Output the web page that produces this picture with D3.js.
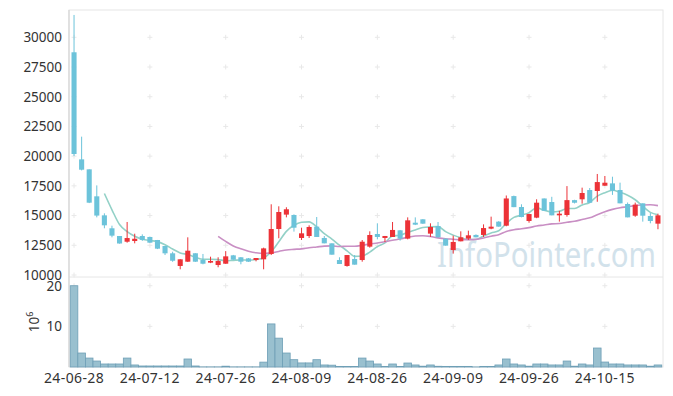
<!DOCTYPE html>
<html>
<head>
<meta charset="utf-8">
<script src="https://cdn.jsdelivr.net/npm/d3@7"></script>
<style>
  body { margin: 0; background: #fff; }
  text { font-family: "Noto Sans", sans-serif; }
</style>
</head>
<body>
<div id="chart"></div>
<script>
// trading days
const dates = [
  "24-06-28",
  "24-07-01", "24-07-02", "24-07-03", "24-07-04", "24-07-05",
  "24-07-08", "24-07-09", "24-07-10", "24-07-11", "24-07-12",
  "24-07-15", "24-07-16", "24-07-17", "24-07-18", "24-07-19",
  "24-07-22", "24-07-23", "24-07-24", "24-07-25", "24-07-26",
  "24-07-29", "24-07-30", "24-07-31", "24-08-01", "24-08-02",
  "24-08-05", "24-08-06", "24-08-07", "24-08-08", "24-08-09",
  "24-08-12", "24-08-13", "24-08-14", "24-08-16",
  "24-08-19", "24-08-20", "24-08-21", "24-08-22", "24-08-23",
  "24-08-26", "24-08-27", "24-08-28", "24-08-29", "24-08-30",
  "24-09-02", "24-09-03", "24-09-04", "24-09-05", "24-09-06",
  "24-09-09", "24-09-10", "24-09-11", "24-09-12", "24-09-13",
  "24-09-19", "24-09-20",
  "24-09-23", "24-09-24", "24-09-25", "24-09-26", "24-09-27",
  "24-09-30", "24-10-02", "24-10-04",
  "24-10-07", "24-10-08", "24-10-10", "24-10-11",
  "24-10-14", "24-10-15", "24-10-16", "24-10-17", "24-10-18",
  "24-10-21", "24-10-22", "24-10-23", "24-10-24"
];

const open = [28740, 19730, 18890, 16620, 15020, 13930, 13280, 12800, 12860, 13280,
  13200, 12945, 12440, 11825, 10760, 11120, 11830, 11260, 11040, 10840,
  10950, 11655, 11490, 11400, 11260, 11320, 11770, 13870, 15080, 15050,
  13115, 13280, 14070, 13115, 12665, 11260, 10760, 11350, 11260, 12385,
  13450, 13115, 13200, 13760, 13060, 14400, 14685, 13480, 14120, 13060,
  12100, 12835, 13060, 13370, 13370, 13900, 14490, 14150, 16640, 15720,
  14545, 14825, 16440, 16140, 15020, 15050, 16300, 16370, 17150, 17070,
  17515, 17710, 17150, 15975, 14990, 16030, 14965, 14320];
const high = [31880, 21640, 18890, 17540, 15190, 14150, 13280, 14460, 13475, 13420,
  13230, 12950, 12440, 11960, 11330, 13170, 11830, 11770, 11540, 11490,
  12010, 11690, 11510, 11430, 11430, 12300, 15950, 15780, 15700, 15100,
  13980, 14180, 14880, 13280, 12665, 11490, 11680, 11680, 12945, 13675,
  14350, 13283, 14460, 13790, 14850, 14850, 14700, 14350, 14460, 13060,
  13310, 13675, 13730, 13420, 14260, 14910, 14530, 16690, 16680, 15950,
  15150, 16370, 16440, 16580, 15400, 17480, 16330, 17350, 17320, 18500,
  18330, 18270, 17770, 16100, 16090, 16030, 15210, 15160];
const low = [20010, 18800, 16050, 14850, 13930, 13170, 12635, 12720, 12665, 12870,
  12700, 12180, 11680, 11110, 10480, 11100, 11100, 10900, 11000, 10650,
  10940, 11280, 10900, 11100, 11150, 10480, 11680, 13090, 14850, 13650,
  12945, 13115, 13200, 12665, 11710, 10925, 10700, 10870, 11120, 12300,
  13000, 12780, 13200, 12890, 13000, 14200, 14300, 13200, 13170, 12470,
  11800, 12833, 12950, 13170, 13200, 13850, 14066, 14100, 15710, 14850,
  14400, 14780, 15405, 15020, 14490, 14910, 16020, 16000, 16080, 16160,
  17500, 16740, 16030, 14850, 14900, 14490, 14350, 13850];
const close = [20180, 18860, 16085, 15000, 14180, 13310, 12650, 13110, 13050, 12950,
  12720, 12215, 11825, 11200, 11320, 12045, 11120, 10950, 11180, 11180,
  11570, 11290, 11120, 11120, 11430, 12240, 13870, 15300, 15530, 13980,
  13506, 14040, 13200, 12665, 11710, 10925, 11680, 10870, 12800, 13365,
  13200, 13283, 13790, 13060, 14600, 14235, 14320, 14040, 13170, 12470,
  12780, 13170, 13340, 13170, 13950, 14066, 14070, 16440, 15710, 14880,
  15130, 16085, 15405, 15020, 15160, 16300, 16080, 16900, 16080, 17820,
  17765, 17095, 16030, 14850, 15920, 14990, 14545, 15020];
// volume, millions of shares
const volume = [20.0, 3.44, 2.2, 1.47, 0.74, 0.74, 0.74, 2.2, 0.5, 0.25,
  0.25, 0.25, 0.25, 0.25, 0.25, 1.97, 0.25, 0.03, 0.03, 0.03,
  0.2, 0.03, 0.03, 0.03, 0.03, 1.2, 10.6, 7.1, 3.44, 1.8,
  1.0, 1.0, 1.8, 0.5, 0.45, 0.15, 0.12, 0.12, 2.2, 1.47,
  0.74, 0.15, 0.74, 0.15, 0.98, 0.5, 0.2, 0.5, 0.18, 0.15,
  0.15, 0.15, 0.15, 0.02, 0.15, 0.15, 0.5, 1.97, 0.74, 0.5,
  0.2, 0.74, 0.74, 0.5, 0.5, 1.47, 0.2, 0.74, 0.5, 4.67,
  1.22, 0.74, 0.74, 0.5, 0.5, 0.5, 0.2, 0.5];

const priceTicks = [10000, 12500, 15000, 17500, 20000, 22500, 25000, 27500, 30000];
const volumeTicks = [10, 20];
const maPeriods = [5, 20];
const maColors = ["#93d1c7", "#c98fc4"];

const W = 673, H = 396;
const plotL = 69, plotR = 663, plotT = 10, split = 277, plotB = 367;

const svg = d3.select("div#chart").append("svg")
    .attr("width", W)
    .attr("height", H);

const x = d3.scaleBand()
    .domain(dates)
    .range([plotL, plotR])
    .padding(0.33);
const step = x.step();
const cx = d => x(d) + x.bandwidth() / 2;

const y = d3.scaleLinear()
    .domain([9832, 32297])
    .range([split, plotT]);

const yv = d3.scaleLinear()
    .domain([0, 21.9])
    .range([plotB, split + 1]);

// watermark, behind everything
svg.append("text")
    .attr("x", 437)
    .attr("y", 267)
    .attr("textLength", 219)
    .attr("lengthAdjust", "spacingAndGlyphs")
    .style("font-size", "34px")
    .style("fill", "#d2e2eb")
    .text("InfoPointer.com");

// frame
svg.append("rect")
    .attr("x", plotL).attr("y", plotT)
    .attr("width", plotR - plotL).attr("height", plotB - plotT)
    .attr("fill", "none")
    .attr("stroke", "#e6e6e6");
svg.append("line")
    .attr("x1", plotL).attr("x2", plotR)
    .attr("y1", split).attr("y2", split)
    .attr("stroke", "#e6e6e6");
svg.append("line")
    .attr("x1", plotL).attr("x2", plotL)
    .attr("y1", plotT).attr("y2", plotB)
    .attr("stroke", "#cfcfcf");

// grid: small crosses at tick intersections
const labelIdx = d3.range(0, dates.length, 10);
const gx = labelIdx.map(i => cx(dates[i]));
const gy = priceTicks.map(y).concat(volumeTicks.map(yv));
const crosses = [];
gx.forEach(a => gy.forEach(b => crosses.push([a, b])));
const grid = svg.append("g").attr("stroke", "#e8e8e8").attr("stroke-width", 1);
grid.selectAll("path")
    .data(crosses)
    .enter()
    .append("path")
    .attr("d", d => "M" + (d[0] - 2.5) + "," + d[1] + "h5M" + d[0] + "," + (d[1] - 2.5) + "v5");

// price axis
const yAxis = svg.append("g")
    .attr("transform", "translate(" + (plotL - 4) + ",0)")
    .call(d3.axisLeft(y).tickValues(priceTicks).tickSize(0).tickFormat(d3.format("d")));
yAxis.select(".domain").remove();

// volume axis
const vAxis = svg.append("g")
    .attr("transform", "translate(" + (plotL - 4) + ",0)")
    .call(d3.axisLeft(yv).tickValues(volumeTicks).tickSize(0));
vAxis.select(".domain").remove();

svg.selectAll(".tick text")
    .style("font-size", "13.5px")
    .style("font-family", "Noto Sans")
    .style("fill", "#333");

// 10^6 unit label
const unit = svg.append("text")
    .attr("transform", "translate(39," + ((split + plotB) / 2) + ") rotate(-90)")
    .attr("text-anchor", "middle")
    .style("font-size", "13.5px")
    .style("fill", "#333");
unit.append("tspan").text("10");
unit.append("tspan").attr("dy", -6).style("font-size", "9px").text("6");

// x labels
svg.append("g")
    .selectAll("text")
    .data(labelIdx)
    .enter()
    .append("text")
    .attr("x", i => cx(dates[i]))
    .attr("y", 383)
    .attr("text-anchor", "middle")
    .style("font-size", "14px")
    .style("letter-spacing", "0.4px")
    .style("fill", "#333")
    .text(i => dates[i]);

// volume bars
svg.append("g")
    .selectAll("rect")
    .data(dates)
    .enter()
    .append("rect")
    .attr("x", d => x(d) - (step - x.bandwidth()) / 2)
    .attr("width", step)
    .attr("y", (d, i) => yv(volume[i]))
    .attr("height", (d, i) => yv(0) - yv(volume[i]))
    .attr("fill", "#99c0cf")
    .attr("stroke", "#6e9fb6")
    .attr("stroke-width", 0.8);

// moving averages from close
maPeriods.forEach(function (p, k) {
    const pts = [];
    for (let i = p - 1; i < close.length; i++) {
        pts.push([cx(dates[i]), y(d3.mean(close.slice(i - p + 1, i + 1)))]);
    }
    svg.append("path")
        .datum(pts)
        .attr("d", d3.line().curve(d3.curveMonotoneX))
        .attr("fill", "none")
        .attr("stroke", maColors[k])
        .attr("stroke-width", 1.6);
});

// candles
const up = "#ec3237", down = "#6cc3da";
const candles = svg.append("g")
    .selectAll("g")
    .data(dates)
    .enter()
    .append("g");
candles.append("line")
    .attr("x1", d => cx(d)).attr("x2", d => cx(d))
    .attr("y1", (d, i) => y(high[i]))
    .attr("y2", (d, i) => y(low[i]))
    .attr("stroke", (d, i) => close[i] >= open[i] ? up : down)
    .attr("stroke-width", 1);
candles.append("rect")
    .attr("x", d => x(d))
    .attr("width", x.bandwidth())
    .attr("y", (d, i) => y(Math.max(open[i], close[i])))
    .attr("height", (d, i) => Math.max(1.5, Math.abs(y(open[i]) - y(close[i]))))
    .attr("fill", (d, i) => close[i] >= open[i] ? up : down);
</script>
</body>
</html>
